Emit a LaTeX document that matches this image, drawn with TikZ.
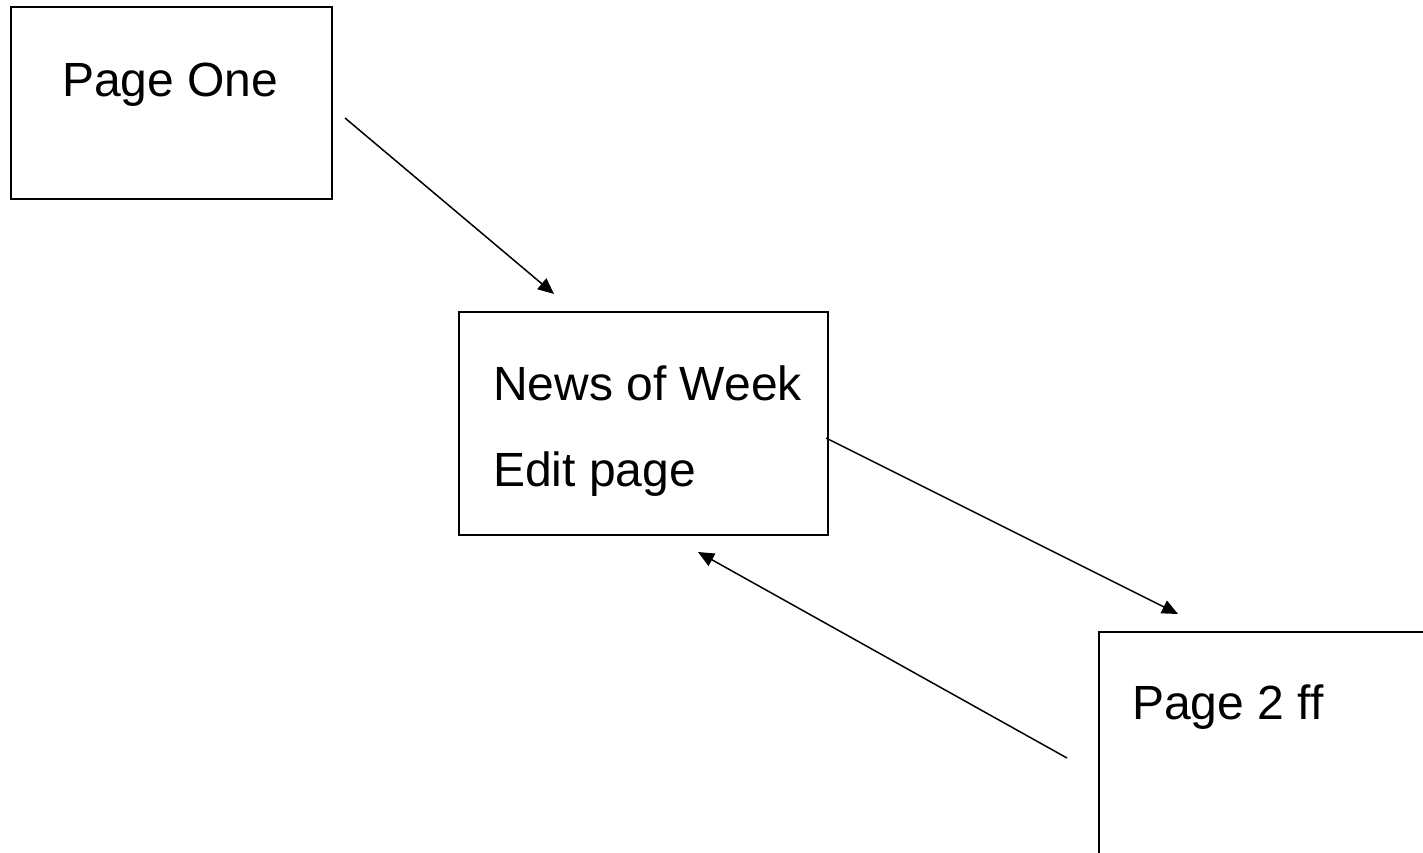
\documentclass[tikz,border=0pt]{standalone}
\usepackage{fontspec}
\setmainfont[Ligatures=NoCommon]{Liberation Sans}
\usetikzlibrary{arrows.meta}
\begin{document}
\begin{tikzpicture}[x=1pt,y=-1pt,
  pagebox/.style={draw=black,line width=1.6pt},
  lbl/.style={anchor=base west,inner sep=0pt,font=\fontsize{48}{57}\selectfont},
  conn/.style={line width=1.5pt,-{Triangle[length=16pt,width=14pt]}}]
\useasboundingbox (0,0) rectangle (1423,852);
\clip (0,0) rectangle (1423,852);
% boxes
\node[pagebox,minimum width=321pt,minimum height=192pt,inner sep=0pt,anchor=north west] (one) at (10,6) {};
\node[pagebox,minimum width=369pt,minimum height=223pt,inner sep=0pt,anchor=north west] (news) at (458,311) {};
\node[pagebox,minimum width=340pt,minimum height=240pt,inner sep=0pt,anchor=north west] (two) at (1098,631) {};
% texts
\node[lbl] (tone) at (62,96) {Page One};
\node[lbl] (tnews) at (493,400) {News of Week};
\node[lbl] (tedit) at (493,486) {Edit page};
\node[lbl] (ttwo) at (1132,719) {Page 2 f\kern0pt f};
% connector ends
\coordinate (a1s) at (345,118);
\coordinate (a1e) at (554,294);
\coordinate (a2s) at (826,438);
\coordinate (a2e) at (1178,614);
\coordinate (a3s) at (1067,758);
\coordinate (a3e) at (698,552);
\draw[conn] (a1s) -- (a1e);
\draw[conn] (a2s) -- (a2e);
\draw[conn] (a3s) -- (a3e);
\end{tikzpicture}
\end{document}
